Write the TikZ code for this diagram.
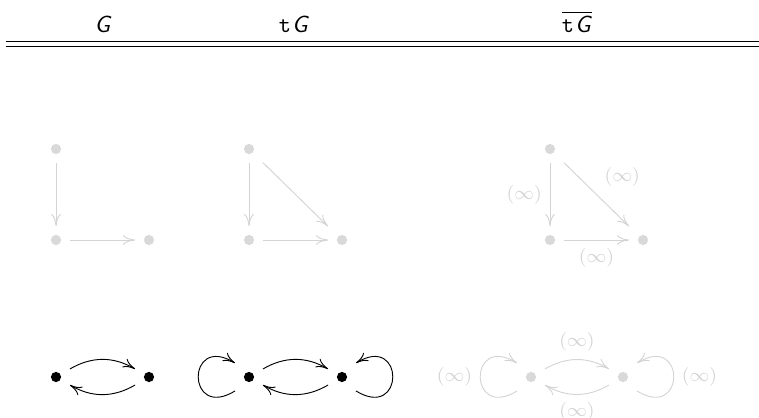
\documentclass[tikz,border=0pt]{standalone}
\usetikzlibrary{arrows.meta}
\definecolor{lg}{HTML}{D9D9D9}
\definecolor{lgl}{HTML}{D4D4D4}
\begin{document}
\begin{tikzpicture}[x=0.43pt,y=0.43pt,
  pt/.style={rectangle,inner sep=0pt,minimum size=11.6pt},
  arr/.style={-{To[length=5.2pt,width=4.2pt]}},
  garr/.style={arr,draw=lgl},
  barr/.style={arr,draw=black},
  glab/.style={text=lgl,font=\footnotesize},
  head/.style={anchor=base,font=\normalsize}]
\useasboundingbox (0,0) rectangle (759,417);
% header
\node[head] (h1) at (103,385) {\textsf{\slshape G}};
\node[head] (h2) at (294,385) {\texttt{t}\kern0.5pt\textsf{\slshape G}};
\node[head] (h3) at (577,385) {$\overline{\hbox{\texttt{t}\kern0.5pt\textsf{\slshape G}}}$};
\draw[line width=0.45pt] (6,375.5) -- (759,375.5);
\draw[line width=0.45pt] (6,370.5) -- (759,370.5);
% top row nodes
\node[pt] (g1) at (56,268) {};
\node[pt] (g2) at (56,177) {};
\node[pt] (g3) at (149,177) {};
\node[pt] (t1) at (249,268) {};
\node[pt] (t2) at (249,177) {};
\node[pt] (t3) at (342,177) {};
\node[pt] (u1) at (550,268) {};
\node[pt] (u2) at (550,177) {};
\node[pt] (u3) at (643,177) {};
\foreach \n in {g1,g2,g3,t1,t2,t3,u1,u2,u3} \fill[lg] (\n) circle (2.2pt);
\draw[garr] (g1) -- (g2);
\draw[garr] (g2) -- (g3);
\draw[garr] (t1) -- (t2);
\draw[garr] (t2) -- (t3);
\draw[garr] (t1) -- (t3);
\draw[garr] (u1) -- node[glab,left] {$(\infty)$} (u2);
\draw[garr] (u2) -- node[glab,below] {$(\infty)$} (u3);
\draw[garr] (u1) -- node[glab,above right] {$(\infty)$} (u3);
% bottom row nodes
\node[pt] (a1) at (56,40) {};
\node[pt] (a2) at (149,40) {};
\node[pt] (b1) at (249,40) {};
\node[pt] (b2) at (342,40) {};
\node[pt] (c1) at (531,40) {};
\node[pt] (c2) at (623,40) {};
\foreach \n in {a1,a2,b1,b2} \fill[black] (\n) circle (2.2pt);
\foreach \n in {c1,c2} \fill[lg] (\n) circle (2.2pt);
\draw[barr] (a1) to[bend left=30] (a2);
\draw[barr] (a2) to[bend left=30] (a1);
\draw[barr] (b1) to[bend left=30] (b2);
\draw[barr] (b2) to[bend left=30] (b1);
\draw[barr] (b1.south west) .. controls +(-49,-30) and +(-49,30) .. (b1.north west);
\draw[barr] (b2.south east) .. controls +(49,-30) and +(49,30) .. (b2.north east);
\draw[garr] (c1) to[bend left=30] node[glab,above] {$(\infty)$} (c2);
\draw[garr] (c2) to[bend left=30] node[glab,below] {$(\infty)$} (c1);
\draw[garr] (c1.south west) .. controls +(-49,-30) and +(-49,30) .. node[glab,left] {$(\infty)$} (c1.north west);
\draw[garr] (c2.south east) .. controls +(49,-30) and +(49,30) .. node[glab,right] {$(\infty)$} (c2.north east);
\end{tikzpicture}
\end{document}
